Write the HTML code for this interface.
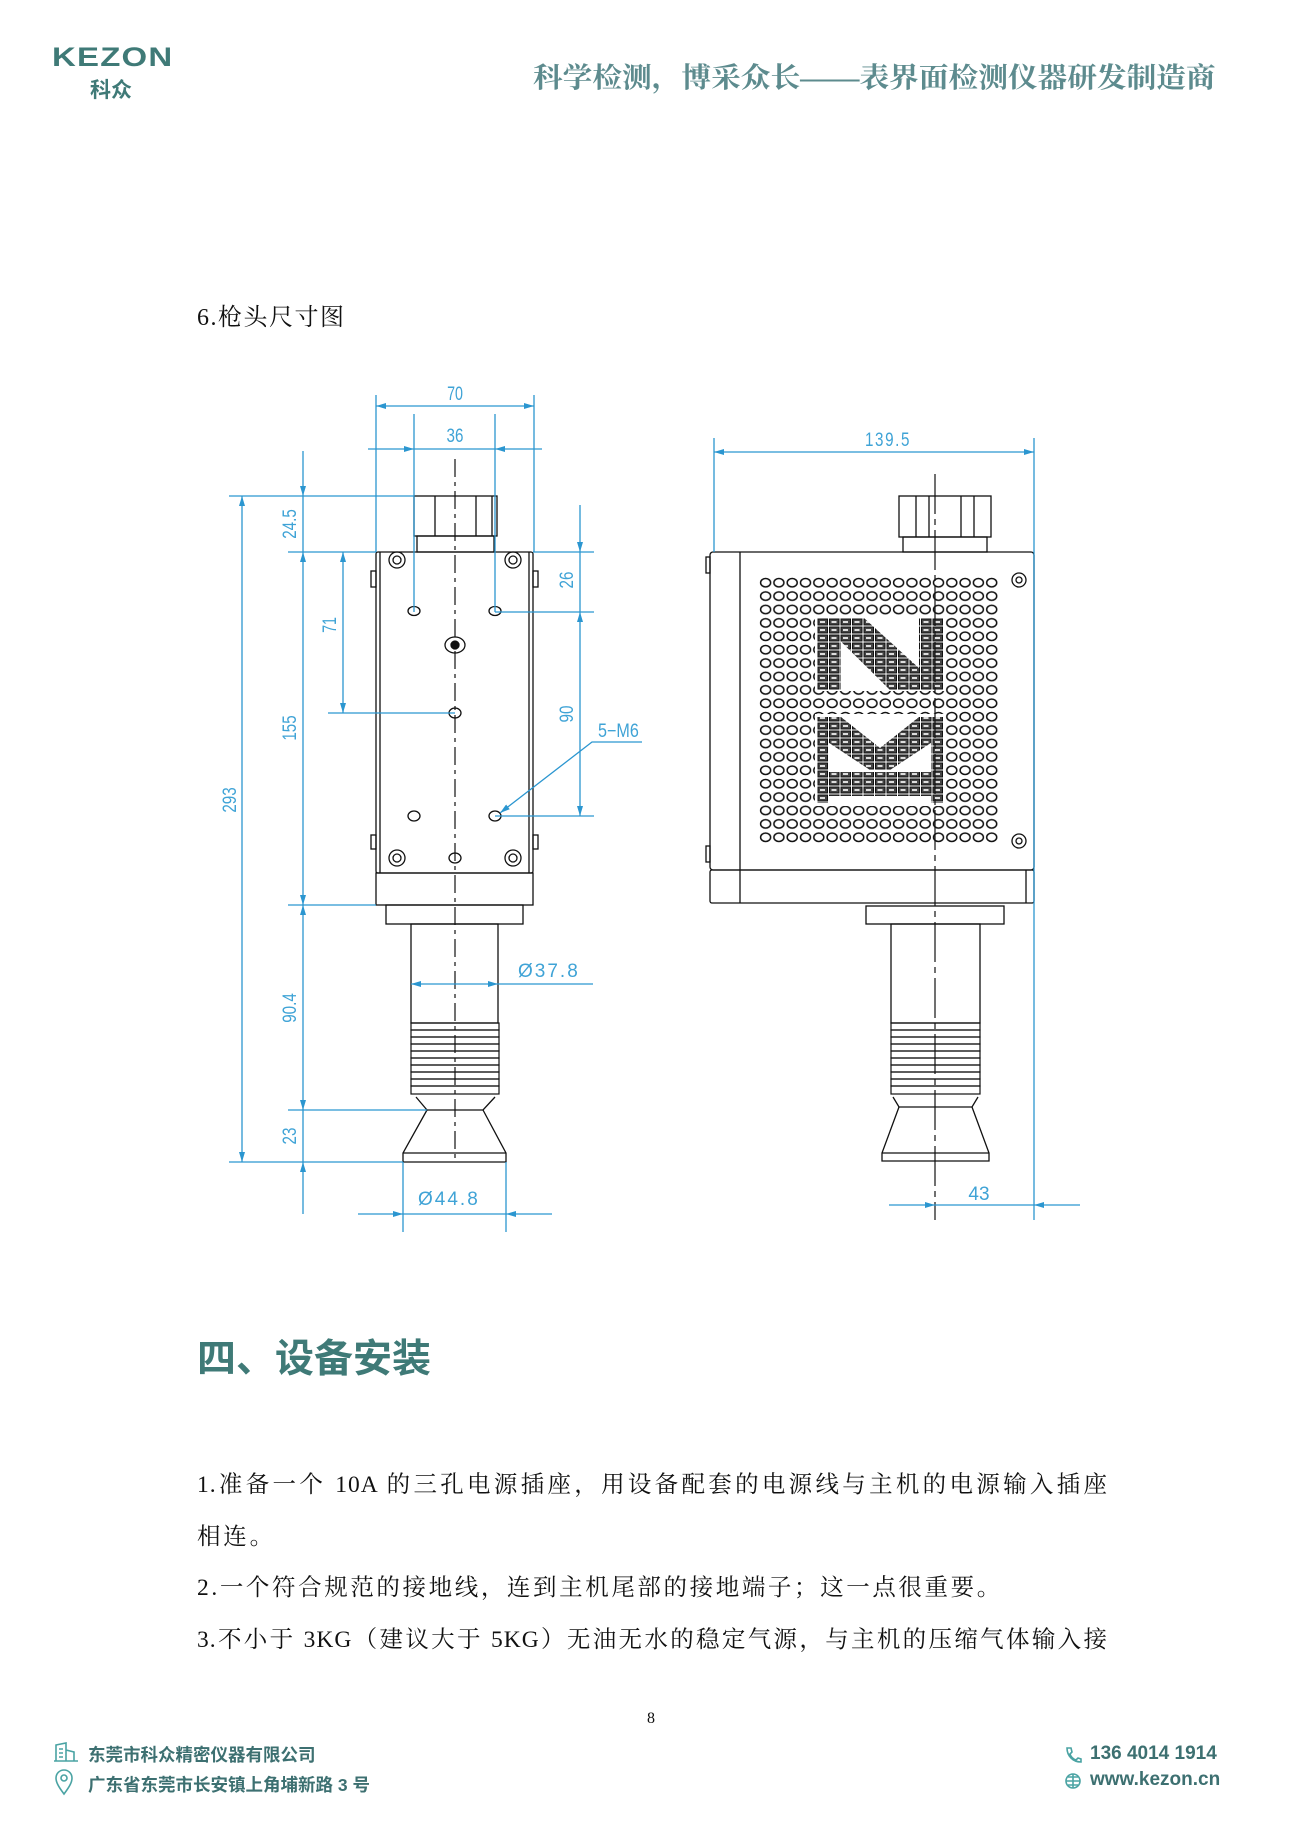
<!DOCTYPE html>
<html><head><meta charset="utf-8"><style>
html,body{margin:0;padding:0;background:#fff;}
body{width:1300px;height:1838px;position:relative;overflow:hidden;}
.t{position:absolute;white-space:nowrap;}
.serif{font-family:"Liberation Serif","Noto Serif CJK SC",serif;}
.sans{font-family:"Liberation Sans","Noto Sans CJK SC",sans-serif;}
.j{width:911px;white-space:nowrap;text-align:justify;text-align-last:justify;letter-spacing:1px;}
</style></head><body>
<div class="t sans" style="left:52px;top:42px;font-size:27px;font-weight:bold;color:#3f7a77;letter-spacing:1px;transform:scaleX(1.22);transform-origin:left;">KEZON</div>
<div class="t sans" style="left:90px;top:74px;font-size:21px;font-weight:bold;color:#3f7a77;">科众</div>
<div class="t serif" style="left:533px;top:56px;font-size:28px;font-weight:bold;color:#5d8b8e;transform:scaleX(1.06);transform-origin:left;">科学检测，博采众长——表界面检测仪器研发制造商</div>
<div class="t serif" style="left:197px;top:297px;font-size:24px;color:#111;letter-spacing:1.5px;">6.枪头尺寸图</div>

<svg style="position:absolute;left:0;top:0" width="1300" height="1838" viewBox="0 0 1300 1838">
<defs>
<marker id="a" viewBox="0 0 10 6" refX="10" refY="3" markerWidth="14" markerHeight="6" markerUnits="userSpaceOnUse" orient="auto-start-reverse"><path d="M0,0L10,3L0,6z" fill="#2b96d0"/></marker>
<pattern id="holes" x="759" y="576" width="13.3" height="13.4" patternUnits="userSpaceOnUse"><ellipse cx="6.6" cy="6.7" rx="5" ry="4.2" fill="none" stroke="#111" stroke-width="1.5"/></pattern>
<pattern id="cells" x="817" y="618" width="11.5" height="8" patternUnits="userSpaceOnUse"><rect x="1" y="1" width="9.5" height="6" fill="#444" stroke="#111" stroke-width="1"/><rect x="3" y="3" width="5" height="2" fill="#ddd"/></pattern>
<clipPath id="c1"><polygon points="817,618 864,618 943,690 890,690"/><rect x="817" y="618" width="24" height="72"/><rect x="919" y="618" width="24" height="72"/></clipPath>
<clipPath id="c2"><polygon points="817,717 841,717 880,748 919,717 943,717 943,735 890,770 870,770 817,735"/><rect x="817" y="717" width="12" height="86"/><rect x="931" y="717" width="12" height="86"/><rect x="817" y="772" width="126" height="24"/></clipPath>
</defs>
<g fill="none" stroke="#111" stroke-width="1.3">
<rect x="414" y="496" width="83" height="40"/>
<line x1="435" y1="496" x2="435" y2="536"/><line x1="476" y1="496" x2="476" y2="536"/><line x1="492" y1="496" x2="492" y2="536"/>
<rect x="417" y="536" width="77" height="16"/>
<rect x="376" y="552" width="157" height="321" rx="2"/>
<line x1="380" y1="552" x2="380" y2="873"/><line x1="529" y1="552" x2="529" y2="873"/>
<rect x="371" y="571" width="5" height="16"/><rect x="533" y="571" width="5" height="16"/>
<rect x="371" y="835" width="5" height="14"/><rect x="533" y="835" width="5" height="14"/>
<rect x="376" y="873" width="157" height="32"/>
<rect x="386" y="905" width="137" height="19"/>
<rect x="411" y="924" width="87" height="99"/>
<g stroke-width="1.2">
<rect x="411" y="1023" width="88" height="7"/><rect x="411" y="1030" width="88" height="7"/><rect x="411" y="1037" width="88" height="7"/><rect x="411" y="1044" width="88" height="7"/><rect x="411" y="1051" width="88" height="7"/><rect x="411" y="1058" width="88" height="7"/><rect x="411" y="1065" width="88" height="7"/><rect x="411" y="1072" width="88" height="7"/><rect x="411" y="1079" width="88" height="7"/><rect x="411" y="1086" width="88" height="8"/>
</g>
<path d="M416,1097 L427,1110 L483,1110 L495,1097"/>
<path d="M427,1110 L403,1153 L403,1162 L506,1162 L506,1153 L483,1110"/>
<line x1="403" y1="1153" x2="506" y2="1153"/>
<circle cx="397" cy="560" r="8"/><circle cx="397" cy="560" r="4"/>
<circle cx="513" cy="560" r="8"/><circle cx="513" cy="560" r="4"/>
<circle cx="397" cy="858" r="8"/><circle cx="397" cy="858" r="4"/>
<circle cx="513" cy="858" r="8"/><circle cx="513" cy="858" r="4"/>
<ellipse cx="414" cy="611" rx="6" ry="4.5"/><ellipse cx="495" cy="611" rx="6" ry="4.5"/>
<ellipse cx="455" cy="645" rx="10" ry="8"/><circle cx="455" cy="645" r="4" fill="#111"/>
<ellipse cx="455" cy="713" rx="6" ry="5"/>
<ellipse cx="414" cy="816" rx="6" ry="5"/><ellipse cx="495" cy="816" rx="6" ry="5"/>
<ellipse cx="455" cy="858" rx="6" ry="5"/>
<line x1="455" y1="459" x2="455" y2="1162" stroke-dasharray="18,5,4,5" stroke-width="1.2"/>
<rect x="899" y="496" width="92" height="41"/>
<line x1="916" y1="496" x2="916" y2="537"/><line x1="929" y1="496" x2="929" y2="537"/><line x1="961" y1="496" x2="961" y2="537"/><line x1="974" y1="496" x2="974" y2="537"/>
<rect x="903" y="537" width="84" height="15"/>
<rect x="710" y="552" width="324" height="318" rx="3"/>
<line x1="740" y1="552" x2="740" y2="903"/>
<rect x="706" y="557" width="4" height="16"/><rect x="706" y="846" width="4" height="16"/>
<rect x="710" y="870" width="324" height="33" rx="2"/>
<line x1="1026" y1="870" x2="1026" y2="903"/>
<rect x="866" y="906" width="138" height="18"/>
<rect x="891" y="924" width="89" height="99"/>
<g stroke-width="1.2">
<rect x="891" y="1023" width="89" height="7"/><rect x="891" y="1030" width="89" height="7"/><rect x="891" y="1037" width="89" height="7"/><rect x="891" y="1044" width="89" height="7"/><rect x="891" y="1051" width="89" height="7"/><rect x="891" y="1058" width="89" height="7"/><rect x="891" y="1065" width="89" height="7"/><rect x="891" y="1072" width="89" height="7"/><rect x="891" y="1079" width="89" height="7"/><rect x="891" y="1086" width="89" height="8"/>
</g>
<path d="M893,1097 L899,1107 L972,1107 L978,1097"/>
<path d="M899,1107 L882,1153 L882,1161 L989,1161 L989,1153 L972,1107"/>
<line x1="882" y1="1153" x2="989" y2="1153"/>
<circle cx="1019" cy="580" r="7"/><circle cx="1019" cy="580" r="3"/>
<circle cx="1019" cy="841" r="7"/><circle cx="1019" cy="841" r="3"/>
</g>
<rect x="759" y="576" width="239" height="268" fill="url(#holes)"/>
<rect x="815" y="615" width="130" height="76" fill="#fff"/>
<rect x="815" y="714" width="130" height="92" fill="#fff"/>
<rect x="817" y="618" width="126" height="72" fill="url(#cells)" clip-path="url(#c1)"/>
<rect x="817" y="717" width="126" height="86" fill="url(#cells)" clip-path="url(#c2)"/>
<line x1="935" y1="474" x2="935" y2="1220" stroke="#111" stroke-width="1.2" stroke-dasharray="40,5,6,5"/>

<g stroke="#2b96d0" stroke-width="1.3" fill="none">
<line x1="376" y1="395" x2="376" y2="552"/><line x1="534" y1="395" x2="534" y2="552"/>
<line x1="376" y1="406" x2="534" y2="406" marker-start="url(#a)" marker-end="url(#a)"/>
<line x1="414" y1="414" x2="414" y2="612"/><line x1="495" y1="414" x2="495" y2="612"/>
<line x1="368" y1="449" x2="414" y2="449" marker-end="url(#a)"/><line x1="542" y1="449" x2="495" y2="449" marker-end="url(#a)"/>
<line x1="414" y1="449" x2="495" y2="449"/>
<line x1="229" y1="496" x2="414" y2="496"/>
<line x1="288" y1="552" x2="376" y2="552"/>
<line x1="288" y1="905" x2="376" y2="905"/>
<line x1="288" y1="1110" x2="427" y2="1110"/>
<line x1="229" y1="1162" x2="403" y2="1162"/>
<line x1="242" y1="496" x2="242" y2="1162" marker-start="url(#a)" marker-end="url(#a)"/>
<line x1="303" y1="451" x2="303" y2="496" marker-end="url(#a)"/>
<line x1="303" y1="496" x2="303" y2="552"/>
<line x1="303" y1="552" x2="303" y2="905" marker-start="url(#a)" marker-end="url(#a)"/>
<line x1="303" y1="905" x2="303" y2="1110" marker-start="url(#a)" marker-end="url(#a)"/>
<line x1="303" y1="1110" x2="303" y2="1162"/>
<line x1="303" y1="1214" x2="303" y2="1162" marker-end="url(#a)"/>
<line x1="343" y1="552" x2="343" y2="713" marker-start="url(#a)" marker-end="url(#a)"/>
<line x1="328" y1="713" x2="455" y2="713"/>
<line x1="533" y1="552" x2="594" y2="552"/>
<line x1="495" y1="612" x2="594" y2="612"/>
<line x1="495" y1="816" x2="594" y2="816"/>
<line x1="580" y1="505" x2="580" y2="552" marker-end="url(#a)"/>
<line x1="580" y1="552" x2="580" y2="612"/>
<line x1="580" y1="612" x2="580" y2="816" marker-start="url(#a)" marker-end="url(#a)"/>
<polyline points="642,742 592,742 500,813" marker-end="url(#a)"/>
<line x1="411" y1="984" x2="498" y2="984" marker-start="url(#a)" marker-end="url(#a)"/>
<line x1="498" y1="984" x2="593" y2="984"/>
<line x1="403" y1="1162" x2="403" y2="1232"/><line x1="506" y1="1162" x2="506" y2="1232"/>
<line x1="358" y1="1214" x2="403" y2="1214" marker-end="url(#a)"/><line x1="552" y1="1214" x2="506" y2="1214" marker-end="url(#a)"/>
<line x1="403" y1="1214" x2="506" y2="1214"/>
<line x1="714" y1="438" x2="714" y2="552"/><line x1="1034" y1="438" x2="1034" y2="1220"/>
<line x1="714" y1="452" x2="1034" y2="452" marker-start="url(#a)" marker-end="url(#a)"/>
<line x1="889" y1="1205" x2="935" y2="1205" marker-end="url(#a)"/>
<line x1="935" y1="1205" x2="1034" y2="1205"/>
<line x1="1080" y1="1205" x2="1034" y2="1205" marker-end="url(#a)"/>
</g>
<g fill="#3fa3d6" font-family="Liberation Sans, sans-serif" font-size="19">
<text x="455" y="400" text-anchor="middle" transform="translate(455 400) scale(0.75 1) translate(-455 -400)">70</text>
<text x="455" y="442" text-anchor="middle" transform="translate(455 442) scale(0.8 1) translate(-455 -442)">36</text>
<text x="888" y="446" text-anchor="middle" transform="translate(888 446) scale(0.8 1) translate(-888 -446)" letter-spacing="2">139.5</text>
<text transform="translate(296 524) rotate(-90) scale(0.8 1)" text-anchor="middle">24.5</text>
<text transform="translate(296 728) rotate(-90) scale(0.8 1)" text-anchor="middle">155</text>
<text transform="translate(296 1008) rotate(-90) scale(0.8 1)" text-anchor="middle">90.4</text>
<text transform="translate(296 1136) rotate(-90) scale(0.8 1)" text-anchor="middle">23</text>
<text transform="translate(236 800) rotate(-90) scale(0.8 1)" text-anchor="middle">293</text>
<text transform="translate(336 625) rotate(-90) scale(0.75 1)" text-anchor="middle">71</text>
<text transform="translate(573 580) rotate(-90) scale(0.8 1)" text-anchor="middle">26</text>
<text transform="translate(573 714) rotate(-90) scale(0.8 1)" text-anchor="middle">90</text>
<text x="598" y="737" transform="translate(598 737) scale(0.85 1) translate(-598 -737)">5−M6</text>
<text x="518" y="977" letter-spacing="2">Ø37.8</text>
<text x="418" y="1205" letter-spacing="2">Ø44.8</text>
<text x="979" y="1200" text-anchor="middle">43</text>
</g>
</svg>

<div class="t sans" style="left:197px;top:1328px;font-size:39px;font-weight:bold;color:#3f7a77;">四、设备安装</div>
<div class="serif" style="position:absolute;left:197px;top:1460px;width:960px;font-size:23.5px;line-height:51.5px;color:#111;">
<div class="j">1.准备一个 10A 的三孔电源插座，用设备配套的电源线与主机的电源输入插座</div>
<div style="letter-spacing:2.8px">相连。</div>
<div style="white-space:nowrap;letter-spacing:2.6px">2.一个符合规范的接地线，连到主机尾部的接地端子；这一点很重要。</div>
<div class="j">3.不小于 3KG（建议大于 5KG）无油无水的稳定气源，与主机的压缩气体输入接</div>
</div>
<div class="t serif" style="left:647px;top:1710px;font-size:16px;color:#111;">8</div>

<svg style="position:absolute;left:54px;top:1742px" width="26" height="54" viewBox="0 0 26 54">
<g fill="none" stroke="#4aa3a3" stroke-width="1.6"><path d="M2,19 L2,3 L12,1 L12,19 M12,8 L20,10 L20,19 M0,19 L24,19 M5,7 h4 M5,11 h4 M5,15 h4"/>
<path d="M10,52 C4,44 2,40 2,36 a8,8 0 0 1 16,0 c0,4 -2,8 -8,16z"/><circle cx="10" cy="36" r="3"/></g></svg>
<div class="t sans" style="left:88px;top:1742px;font-size:17.5px;font-weight:bold;color:#3d7071;">东莞市科众精密仪器有限公司</div>
<div class="t sans" style="left:88px;top:1772px;font-size:17.5px;font-weight:bold;color:#3d7071;">广东省东莞市长安镇上角埔新路 3 号</div>
<svg style="position:absolute;left:1064px;top:1746px" width="18" height="44" viewBox="0 0 18 44">
<g fill="none" stroke="#4aa3a3" stroke-width="1.6"><path d="M3,2 L7,2 L8,6 L6,8 C7,11 9,13 12,14 L14,12 L17,13 L17,16 C9,16 3,10 3,2z"/>
<circle cx="9" cy="35" r="7"/><path d="M2,35 h14 M9,28 v14 M4,31 h10 M4,39 h10"/></g></svg>
<div class="t sans" style="left:1090px;top:1743px;font-size:19px;font-weight:bold;color:#3d7071;">136 4014 1914</div>
<div class="t sans" style="left:1090px;top:1769px;font-size:19px;font-weight:bold;color:#3d7071;">www.kezon.cn</div>
</body></html>
